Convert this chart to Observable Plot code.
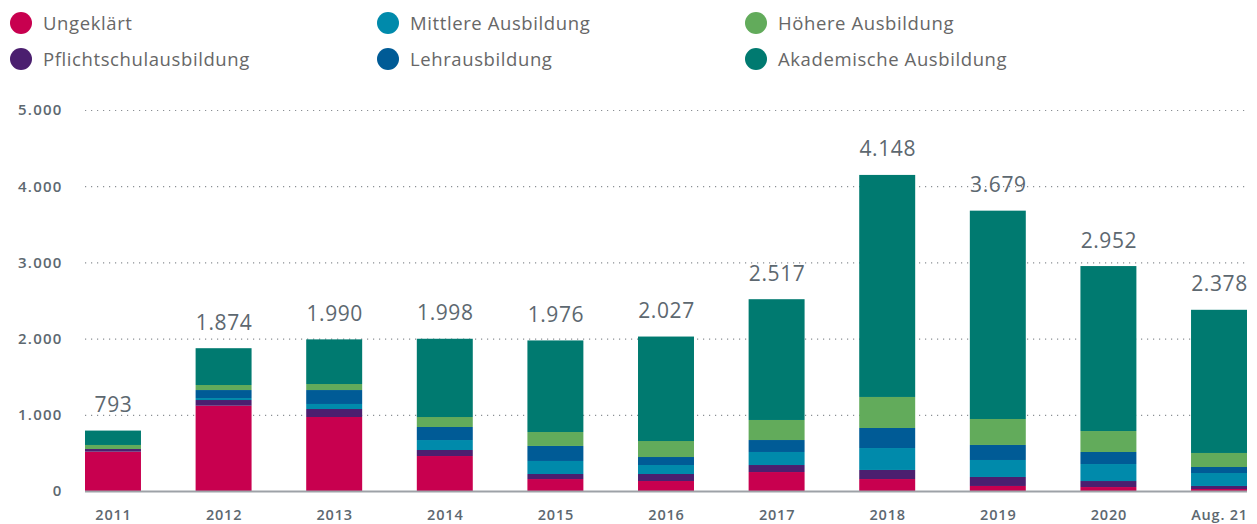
<!DOCTYPE html>
<html><head><meta charset="utf-8">
<script src="https://cdn.jsdelivr.net/npm/d3@7"></script>
<script src="https://cdn.jsdelivr.net/npm/@observablehq/plot@0.6"></script>
<style>
body{margin:0;background:#fff;font-family:"Open Sans",sans-serif;}
#legend{position:relative;height:80px;width:1257px;}
.item{position:absolute;display:flex;align-items:center;font-size:18.5px;letter-spacing:0.6px;color:#676767;height:22px;line-height:22px;white-space:nowrap;}
.dot{width:22px;height:22px;border-radius:50%;margin-right:11px;flex:none;}
</style></head><body>
<div id="legend"></div><div id="chart"></div>
<script>
const years = ["2011","2012","2013","2014","2015","2016","2017","2018","2019","2020","Aug. 21"];
const ungeklaert = [516,1119,971,459,157,131,249,157,66,52,26];
const pflicht    = [35,75,105,79,66,92,92,119,118,79,40];
const mittlere   = [0,26,66,131,171,118,171,288,223,223,170];
const lehr       = [0,105,183,171,197,105,157,263,197,158,79];
const hoehere    = [53,66,79,131,183,210,263,407,341,275,184];
const akademisch = [189,483,586,1027,1202,1371,1585,2914,2734,2165,1879];
const totals     = [793,1874,1990,1998,1976,2027,2517,4148,3679,2952,2378];
const seriesNames = ["Ungeklärt","Pflichtschulausbildung","Mittlere Ausbildung","Lehrausbildung","Höhere Ausbildung","Akademische Ausbildung"];
const seriesColors = ["#c8004f","#4b1f6f","#008aab","#005b96","#62ab5b","#007a70"];
const yTicks = [0,1000,2000,3000,4000,5000];
const gridTicks = [1000,2000,3000,4000,5000];

const fmt = d3.formatLocale({decimal:",",thousands:".",grouping:[3],currency:["","€"]}).format(",d");

// legend
const legend = document.getElementById("legend");
const colLeft = [10, 377, 745];
const rowTop = [12, 48];
seriesNames.forEach((s,i)=>{
  const it = document.createElement("div");
  it.className = "item";
  it.style.left = colLeft[Math.floor(i/2)] + "px";
  it.style.top = rowTop[i%2] + "px";
  const dot = document.createElement("span");
  dot.className = "dot";
  dot.style.background = seriesColors[i];
  const t = document.createElement("span");
  t.textContent = s;
  it.appendChild(dot); it.appendChild(t);
  legend.appendChild(it);
});

const seriesValues = [ungeklaert,pflicht,mittlere,lehr,hoehere,akademisch];
const data = [];
years.forEach((yr,i)=>seriesNames.forEach((s,j)=>data.push({year:yr,series:s,value:seriesValues[j][i]})));
const totalData = years.map((yr,i)=>({year:yr,total:totals[i]}));

const plot = Plot.plot({
  width:1257, height:444,
  marginLeft:85, marginRight:10, marginTop:30, marginBottom:33,
  style:{fontFamily:'"Open Sans",sans-serif', background:"#fff", color:"#5d6870", overflow:"visible"},
  x:{domain:years, paddingInner:0.494, paddingOuter:0, round:false, axis:null, label:null},
  y:{domain:[0,5000], axis:null, label:null},
  color:{domain:seriesNames, range:seriesColors},
  marks:[
    Plot.ruleY(gridTicks,{stroke:"#8a8f94", strokeDasharray:"1.2,4.8", strokeWidth:1.2}),
    Plot.barY(data,{x:"year", y:"value", fill:"series", order:seriesNames}),
    Plot.ruleY([0],{stroke:"#9da2a7", strokeWidth:2}),
    Plot.text(totalData,{x:"year", y:"total", text:d=>fmt(d.total), dy:-19, lineAnchor:"bottom", fontSize:21, fill:"#5d6870"}),
    Plot.axisX({tickSize:0, tickPadding:18, fontSize:14.5, fontWeight:600, label:null}),
    Plot.axisY({ticks:yTicks, tickFormat:fmt, tickSize:0, tickPadding:23, fontSize:15, fontWeight:600, label:null})
  ]
});
const sel = d3.select(plot);
sel.selectAll("g[aria-label='y-axis tick label'] text").attr("letter-spacing","1.2px");
sel.selectAll("g[aria-label='x-axis tick label'] text").attr("letter-spacing","0.8px");
sel.selectAll("g[aria-label='text'] text").attr("letter-spacing","0.6px");
document.getElementById("chart").appendChild(plot);
</script>
</body></html>
